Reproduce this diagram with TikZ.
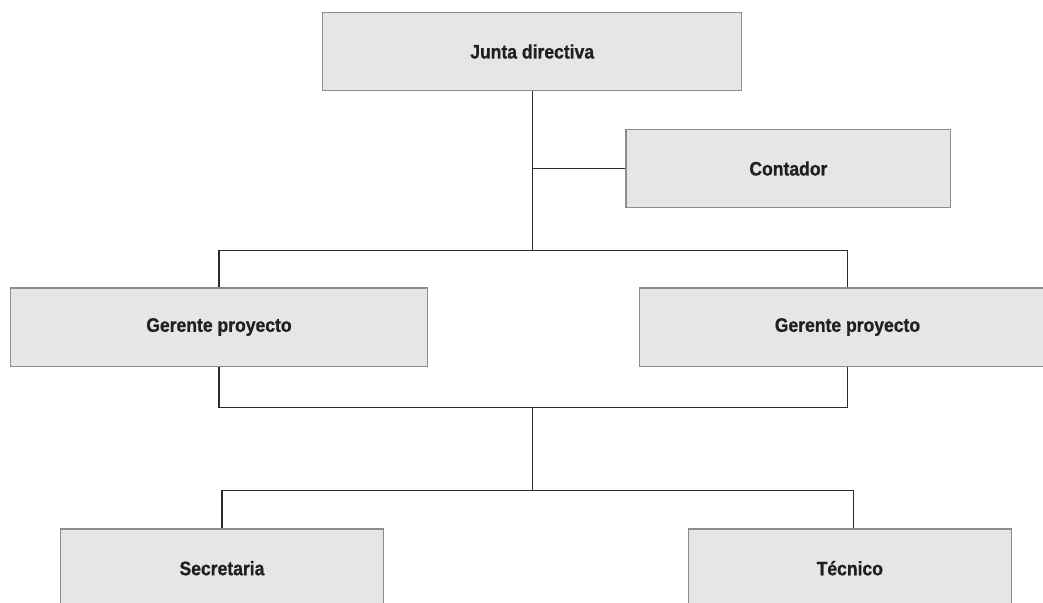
\documentclass[tikz,border=0pt]{standalone}
\usepackage{fontspec}
\newfontfamily\boxfont[FakeStretch=0.9,FakeBold=0.8]{Liberation Sans}
\definecolor{boxfill}{HTML}{E5E6E8}
\definecolor{boxline}{HTML}{8C8C8C}
\definecolor{conn}{HTML}{2A2A2A}
\definecolor{txt}{HTML}{231F20}
\begin{document}
\begin{tikzpicture}[x=1pt,y=-1pt,
  orgbox/.style={draw=boxline, line width=1.4pt, fill=boxfill, rectangle,
    minimum height=78.4pt, inner sep=0pt, text=txt,
    font=\boxfont\bfseries\fontsize{19.5pt}{22pt}\selectfont},
  link/.style={draw=conn, line width=1.2pt}]
\useasboundingbox (0,0) rectangle (1043,602);
\clip (0,0) rectangle (1043,602);
\fill[white] (0,0) rectangle (1043,602);
% hubs
\coordinate (hubA) at (532.7,250.7);
\coordinate (hubB) at (532.7,407.3);
\coordinate (hubC) at (532.7,490.7);
% nodes
\node[orgbox, minimum width=419pt] (jd) at (532.2,51.5) {Junta directiva};
\node[orgbox, minimum width=324.7pt] (ct) at (788.4,168.5) {Contador};
\node[orgbox, minimum width=416.6pt] (gp1) at (219,327) {Gerente proyecto};
\node[orgbox, minimum width=416.6pt] (gp2) at (847.5,327) {Gerente proyecto};
\node[orgbox, minimum width=322.6pt] (sec) at (222,568.2) {Secretaria};
\node[orgbox, minimum width=323pt] (tec) at (849.8,568.2) {Técnico};
\coordinate (tecTop) at ([xshift=3.5pt]tec.north);
% connectors
\draw[link] (jd.south -| hubA) -- (hubA);
\draw[link] (ct.west) -- (ct.west -| hubA);
\draw[link] (gp1.north) |- (hubA) -| (gp2.north);
\draw[link] (gp1.south) |- (hubB) -| (gp2.south);
\draw[link] (hubB) -- (hubC);
\draw[link] (sec.north) |- (hubC) -| (tecTop);
\end{tikzpicture}
\end{document}
